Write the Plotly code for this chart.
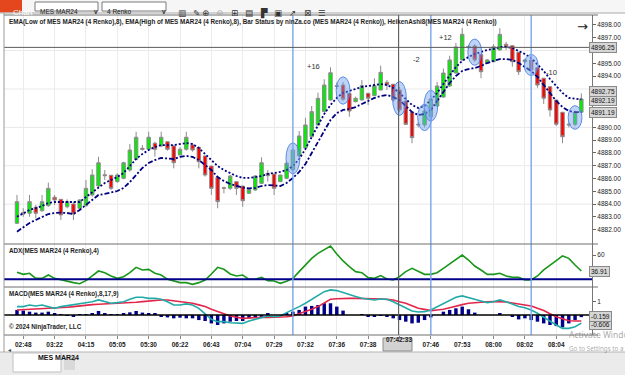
import plotly.graph_objects as go
from plotly.subplots import make_subplots

# ---------------- data ----------------
bars = list(range(91))
ha_open = [4882.51, 4883.34, 4883.29, 4883.76, 4883.49, 4883.88, 4884.54, 4884.38, 4883.80, 4884.02,
           4883.68, 4883.88, 4884.72, 4885.42, 4886.30, 4886.26, 4885.76, 4886.02, 4886.67, 4887.51,
           4888.37, 4888.29, 4888.76, 4888.55, 4888.88, 4888.55, 4887.84, 4888.29, 4888.63, 4888.45,
           4887.77, 4886.98, 4886.10, 4885.24, 4885.24, 4885.76, 4885.42, 4884.85, 4885.11, 4885.63,
           4886.41, 4886.36, 4885.76, 4886.02, 4886.67, 4887.77, 4888.39, 4889.27, 4890.19, 4891.23,
           4892.14, 4893.20, 4893.31, 4892.66, 4892.01, 4892.14, 4892.66, 4892.48, 4892.92, 4893.52,
           4893.37, 4892.92, 4892.06, 4891.18, 4890.25, 4890.19, 4890.81, 4891.67, 4892.37, 4893.23,
           4894.25, 4895.27, 4896.28, 4896.36, 4895.71, 4895.01, 4895.13, 4896.05, 4896.49, 4896.38,
           4895.87, 4895.13, 4895.27, 4894.66, 4893.84, 4893.18, 4892.14, 4891.18, 4890.25, 4890.24,
           4891.18]
ha_high = [4884.72, 4883.68, 4884.72, 4883.94, 4884.72, 4885.68, 4884.72, 4884.38, 4884.38, 4884.20,
           4884.38, 4885.89, 4886.73, 4887.71, 4886.67, 4886.28, 4886.41, 4887.32, 4888.70, 4889.66,
           4888.63, 4889.66, 4888.88, 4889.66, 4888.88, 4888.63, 4888.45, 4889.66, 4888.76, 4888.45,
           4887.77, 4886.98, 4886.10, 4885.37, 4886.28, 4885.76, 4885.42, 4885.24, 4886.28, 4887.66,
           4886.67, 4886.36, 4886.30, 4887.32, 4888.39, 4889.72, 4890.73, 4891.67, 4892.71, 4893.76,
           4894.70, 4893.50, 4893.55, 4892.66, 4892.40, 4893.70, 4892.70, 4893.84, 4894.82, 4893.70,
           4893.40, 4893.18, 4892.06, 4891.18, 4890.40, 4891.40, 4892.50, 4893.55, 4894.60, 4895.60,
           4896.60, 4897.75, 4896.45, 4896.50, 4895.71, 4895.35, 4896.50, 4897.75, 4896.67, 4896.38,
           4895.87, 4895.35, 4895.30, 4894.66, 4893.84, 4893.18, 4892.14, 4891.18, 4890.40, 4891.30,
           4892.66]
ha_low = [4882.45, 4883.02, 4883.02, 4882.90, 4883.41, 4883.80, 4883.94, 4882.77, 4883.68, 4882.77,
          4883.55, 4883.80, 4884.59, 4885.37, 4885.89, 4885.11, 4885.68, 4885.95, 4886.54, 4887.45,
          4888.18, 4888.18, 4887.71, 4888.45, 4888.18, 4886.80, 4887.84, 4888.18, 4888.10, 4886.80,
          4886.15, 4884.72, 4883.68, 4884.85, 4885.11, 4884.72, 4883.80, 4884.80, 4885.05, 4885.58,
          4885.76, 4884.72, 4885.74, 4885.95, 4886.62, 4887.70, 4888.35, 4889.20, 4890.15, 4891.20,
          4892.10, 4893.00, 4892.06, 4890.84, 4891.95, 4892.10, 4891.75, 4892.45, 4892.90, 4892.92,
          4892.01, 4891.18, 4890.20, 4888.76, 4890.00, 4890.00, 4890.75, 4891.60, 4892.30, 4893.20,
          4894.20, 4895.20, 4896.10, 4895.10, 4893.84, 4894.95, 4895.10, 4896.00, 4896.05, 4894.74,
          4894.09, 4895.05, 4894.30, 4893.10, 4891.83, 4890.84, 4890.10, 4888.76, 4890.00, 4890.10,
          4891.10]
ha_close = [4884.20, 4883.23, 4884.20, 4883.29, 4884.20, 4885.24, 4884.33, 4883.16, 4884.20, 4883.23,
            4884.33, 4885.24, 4886.28, 4887.24, 4886.23, 4885.24, 4886.28, 4887.24, 4888.23, 4889.23,
            4888.29, 4889.23, 4888.29, 4889.23, 4888.29, 4887.24, 4888.29, 4889.23, 4888.23, 4887.32,
            4886.28, 4885.24, 4884.20, 4885.28, 4886.20, 4885.24, 4884.27, 4885.16, 4886.20, 4887.24,
            4886.23, 4885.24, 4886.28, 4887.20, 4888.23, 4889.33, 4890.19, 4891.23, 4892.27, 4893.31,
            4894.27, 4893.25, 4892.20, 4891.28, 4892.27, 4893.26, 4892.27, 4893.26, 4894.30, 4893.31,
            4892.14, 4891.36, 4890.24, 4889.20, 4890.20, 4891.28, 4892.22, 4893.23, 4894.25, 4895.27,
            4896.28, 4897.27, 4896.32, 4895.27, 4894.35, 4895.27, 4896.30, 4897.27, 4896.30, 4895.13,
            4894.35, 4895.27, 4894.48, 4893.31, 4892.27, 4891.36, 4890.24, 4889.27, 4890.20, 4891.18,
            4892.22]
ema_high = [4883.02, 4883.31, 4883.55, 4883.70, 4883.86, 4884.09, 4884.17, 4884.17, 4884.17, 4884.13,
            4884.17, 4884.56, 4884.95, 4885.34, 4885.66, 4885.89, 4886.12, 4886.44, 4886.98, 4887.53,
            4887.92, 4888.23, 4888.47, 4888.62, 4888.62, 4888.62, 4888.70, 4888.78, 4888.70, 4888.39,
            4887.92, 4887.45, 4886.98, 4886.67, 4886.44, 4886.20, 4886.05, 4886.05, 4886.12, 4886.20,
            4886.36, 4886.44, 4886.52, 4886.67, 4886.98, 4887.53, 4888.31, 4889.25, 4890.19, 4891.05,
            4891.75, 4892.30, 4892.69, 4892.84, 4893.00, 4893.16, 4893.23, 4893.31, 4893.39, 4893.31,
            4893.08, 4892.69, 4892.22, 4891.75, 4891.52, 4891.67, 4892.14, 4892.69, 4893.39, 4894.09,
            4894.72, 4895.19, 4895.50, 4895.73, 4895.89, 4896.05, 4896.12, 4896.28, 4896.28, 4896.20,
            4895.97, 4895.73, 4895.42, 4894.95, 4894.41, 4893.78, 4893.23, 4892.69, 4892.30, 4892.22,
            4892.19]
ema_low = [4881.85, 4882.22, 4882.53, 4882.77, 4883.00, 4883.23, 4883.31, 4883.34, 4883.31, 4883.23,
           4883.55, 4883.94, 4884.33, 4884.72, 4884.80, 4884.91, 4885.03, 4885.27, 4885.73, 4886.28,
           4886.83, 4887.22, 4887.45, 4887.61, 4887.57, 4887.53, 4887.69, 4887.77, 4887.69, 4887.45,
           4887.06, 4886.67, 4886.12, 4885.81, 4885.58, 4885.42, 4885.30, 4885.23, 4885.27, 4885.42,
           4885.50, 4885.46, 4885.42, 4885.66, 4886.05, 4886.52, 4887.14, 4888.00, 4888.86, 4889.80,
           4890.58, 4891.12, 4891.36, 4891.44, 4891.59, 4891.83, 4892.06, 4892.30, 4892.45, 4892.53,
           4892.37, 4892.14, 4891.67, 4891.20, 4890.97, 4891.05, 4891.36, 4892.06, 4892.77, 4893.47,
           4894.02, 4894.41, 4894.56, 4894.64, 4894.80, 4895.03, 4895.19, 4895.34, 4895.34, 4895.27,
           4895.03, 4894.72, 4894.41, 4893.94, 4893.31, 4892.69, 4892.06, 4891.59, 4891.28, 4891.20,
           4891.19]
adx = [35.0, 32.1, 33.6, 26.3, 26.3, 31.1, 26.3, 23.9, 21.5, 20.1,
       18.6, 23.0, 29.7, 36.9, 34.5, 29.7, 26.3, 28.7, 34.5, 42.2,
       38.4, 39.3, 33.6, 31.1, 24.9, 23.0, 20.1, 20.1, 17.7, 20.1,
       23.9, 32.6, 42.2, 39.3, 32.6, 29.7, 31.1, 24.9, 24.9, 27.8,
       23.0, 22.5, 19.1, 22.0, 26.3, 36.0, 45.6, 55.2, 62.4, 68.2,
       73.0, 61.5, 51.4, 43.2, 36.0, 34.5, 27.3, 26.3, 30.2, 25.4,
       23.9, 28.7, 36.0, 40.8, 36.0, 32.1, 32.1, 34.5, 40.8, 47.0,
       53.7, 60.0, 52.8, 44.1, 38.4, 32.1, 32.1, 33.6, 29.7, 27.8,
       27.8, 23.9, 23.9, 29.7, 38.4, 45.6, 51.8, 58.6, 55.2, 45.6,
       36.91]
macd = [0.63, 0.63, 0.75, 0.68, 0.75, 0.63, 0.50, 0.63, 0.70, 0.80,
        0.83, 0.93, 1.00, 1.13, 1.00, 0.88, 0.93, 1.00, 1.18, 1.33,
        1.33, 1.25, 1.25, 1.18, 1.00, 0.75, 0.75, 0.83, 0.75, 0.50,
        0.08, -0.33, -0.50, -0.50, -0.58, -0.58, -0.63, -0.45, -0.33, -0.18,
        -0.08, -0.13, -0.08, 0.18, 0.38, 0.63, 0.88, 1.18, 1.50, 1.75,
        1.88, 1.83, 1.68, 1.50, 1.38, 1.25, 1.18, 1.13, 1.20, 1.18,
        1.00, 0.75, 0.50, 0.30, 0.23, 0.25, 0.38, 0.63, 0.88, 1.13,
        1.33, 1.43, 1.33, 1.18, 1.05, 0.93, 1.00, 1.13, 1.00, 0.80,
        0.63, 0.55, 0.38, 0.13, -0.18, -0.50, -0.75, -1.00, -1.00, -0.88,
        -0.606]
macd_avg = [0.38, 0.40, 0.43, 0.45, 0.48, 0.50, 0.53, 0.55, 0.58, 0.63,
            0.69, 0.75, 0.78, 0.81, 0.83, 0.85, 0.86, 0.88, 0.92, 0.96,
            1.00, 1.06, 1.12, 1.13, 1.13, 1.07, 1.00, 0.94, 0.88, 0.76,
            0.63, 0.44, 0.25, 0.08, -0.08, -0.17, -0.25, -0.22, -0.18, -0.18,
            -0.18, -0.18, -0.18, -0.13, -0.08, 0.08, 0.25, 0.44, 0.63, 0.92,
            1.18, 1.22, 1.25, 1.25, 1.25, 1.25, 1.24, 1.23, 1.20, 1.17,
            1.13, 1.00, 0.88, 0.70, 0.50, 0.42, 0.33, 0.38, 0.43, 0.55,
            0.68, 0.78, 0.88, 0.93, 0.98, 0.99, 1.00, 0.99, 0.98, 0.90,
            0.83, 0.76, 0.68, 0.50, 0.33, 0.10, -0.13, -0.28, -0.43, -0.45,
            -0.447]
macd_diff = [0.38, 0.33, 0.25, 0.18, 0.18, 0.25, 0.08, 0.02, -0.02, -0.13,
             0.02, 0.05, 0.13, 0.30, 0.13, 0.02, 0.02, 0.13, 0.20, 0.30,
             0.18, 0.13, 0.08, -0.08, -0.18, -0.25, -0.20, -0.25, -0.25, -0.38,
             -0.45, -0.63, -0.75, -0.63, -0.50, -0.45, -0.45, -0.25, -0.18, -0.08,
             0.08, 0.00, 0.00, 0.13, 0.25, 0.38, 0.63, 0.68, 0.75, 0.88,
             0.88, 0.63, 0.33, 0.00, 0.00, 0.02, -0.08, -0.08, -0.03, -0.13,
             -0.25, -0.38, -0.50, -0.63, -0.58, -0.38, -0.18, 0.00, 0.25, 0.38,
             0.50, 0.63, 0.43, 0.18, 0.00, 0.00, 0.00, 0.13, 0.00, -0.13,
             -0.33, -0.25, -0.38, -0.50, -0.63, -0.75, -0.83, -0.93, -0.63, -0.38,
             -0.159]
tick_idx = [1, 6, 11, 16, 21, 26, 31, 36, 41, 46, 51, 56, 61, 66, 71, 76, 81, 86]
tick_labels = ["02:48", "03:22", "04:15", "05:05", "05:30", "06:22", "06:43", "07:04", "07:29",
               "07:32", "07:36", "07:38", "", "07:46", "07:53", "08:00", "08:02", "08:04"]
price_ticks = [4882, 4883, 4884, 4885, 4886, 4887, 4888, 4889, 4890, 4891, 4892, 4893, 4894,
               4895, 4896, 4897, 4898]
price_hidden = [4891, 4892, 4893, 4896]   # labels covered by the value boxes
price_grid = [4884, 4887, 4890, 4893, 4896]
status_bars = [44, 52, 61, 65, 66, 73, 82, 89]
signal_bars = [44, 66, 82]
brick_text = ["+16", "-2", "+12", "-10"]
brick_bar = [47.3, 63.7, 68.3, 85.3]
brick_price = [4894.72, 4895.27, 4897.0, 4894.25]
crosshair_bar = 60.85
crosshair_price = 4896.25
crosshair_time = "07:42:33"
last_price = 4892.75
adx_threshold = 25

# ---------------- figure ----------------
FONT = "Liberation Sans"
W, H = 625, 375
L, R, T, B = 4, 592, 15, 335


def px(x):
    return (x - L) / (R - L)


def py(y):
    return (B - y) / (B - T)


fig = make_subplots(rows=3, cols=1, shared_xaxes=True, vertical_spacing=0,
                    row_heights=[229, 43, 48])

fig.add_trace(go.Candlestick(
    x=bars, open=ha_open, high=ha_high, low=ha_low, close=ha_close,
    increasing=dict(fillcolor="#00ee00", line=dict(color="#8c8c8c", width=1)),
    decreasing=dict(fillcolor="#ff0000", line=dict(color="#8c8c8c", width=1)),
    whiskerwidth=0, hoverinfo="skip", showlegend=False), row=1, col=1)
fig.add_trace(go.Scatter(x=bars, y=ema_high, mode="lines",
                         line=dict(color="#000080", width=1.8, dash="2px,2px"),
                         hoverinfo="skip", showlegend=False), row=1, col=1)
fig.add_trace(go.Scatter(x=bars, y=ema_low, mode="lines",
                         line=dict(color="#000080", width=1.8, dash="5px,2px,2px,2px"),
                         hoverinfo="skip", showlegend=False), row=1, col=1)

fig.add_trace(go.Scatter(x=bars, y=adx, mode="lines", line=dict(color="#1a961a", width=1.6),
                         hoverinfo="skip", showlegend=False), row=2, col=1)

fig.add_trace(go.Bar(x=bars, y=macd_diff, width=0.55, marker=dict(color="#00008b", line=dict(width=0)),
                     hoverinfo="skip", showlegend=False), row=3, col=1)
fig.add_trace(go.Scatter(x=bars, y=macd_avg, mode="lines", line=dict(color="#e3264a", width=1.6),
                         hoverinfo="skip", showlegend=False), row=3, col=1)
fig.add_trace(go.Scatter(x=bars, y=macd, mode="lines", line=dict(color="#22aaa8", width=1.6),
                         hoverinfo="skip", showlegend=False), row=3, col=1)

xr = [-2.07, 91.7]
axis_font = dict(family=FONT, size=6.5, color="#222")
for r in (1, 2, 3):
    fig.update_xaxes(range=xr, tickvals=tick_idx, showgrid=True, gridcolor="#ececec",
                     gridwidth=1, zeroline=False, showline=False, rangeslider_visible=False,
                     row=r, col=1)
fig.update_xaxes(showticklabels=False, ticks="", row=1, col=1)
fig.update_xaxes(showticklabels=False, ticks="", row=2, col=1)
fig.update_xaxes(ticktext=tick_labels, ticks="outside", ticklen=3, tickcolor="#888",
                 tickfont=dict(family=FONT, size=6.5, color="#222", weight="bold"),
                 row=3, col=1)

price_ticktext = ["" if v in price_hidden else f"{v:.2f}" for v in price_ticks]
fig.update_yaxes(side="right", range=[4880.89, 4898.78], tickvals=price_ticks,
                 ticktext=price_ticktext, ticks="outside", ticklen=3, tickcolor="#666",
                 tickfont=axis_font, showgrid=False, zeroline=False,
                 showline=True, linecolor="#777", row=1, col=1)
fig.update_yaxes(side="right", range=[13.8, 75.9], tickvals=[60], ticks="outside", ticklen=3,
                 tickcolor="#666", tickfont=axis_font, showgrid=False, zeroline=False,
                 showline=True, linecolor="#777", row=2, col=1)
fig.update_yaxes(side="right", range=[-1.5, 2.1], tickvals=[1], ticks="outside", ticklen=3,
                 tickcolor="#666", tickfont=axis_font, showgrid=False, zeroline=False,
                 showline=True, linecolor="#777", row=3, col=1)

shapes = []
# ---- window chrome ----
shapes.append(dict(type="rect", xref="paper", yref="paper", x0=px(0), x1=px(625),
                   y0=py(0), y1=py(13), fillcolor="#f6f6f6", line=dict(width=0), layer="below"))
shapes.append(dict(type="rect", xref="paper", yref="paper", x0=px(0), x1=px(22),
                   y0=py(0), y1=py(12.5), fillcolor="#e4471d", line=dict(width=0)))
for x0, x1 in ((35, 98), (102, 166)):
    shapes.append(dict(type="rect", xref="paper", yref="paper", x0=px(x0), x1=px(x1),
                       y0=py(2), y1=py(11), fillcolor="#ffffff",
                       line=dict(color="#7a7a7a", width=1)))
shapes.append(dict(type="line", xref="paper", yref="paper", x0=px(0), x1=px(625),
                   y0=py(13), y1=py(13), line=dict(color="#a8a8a8", width=1)))
shapes.append(dict(type="rect", xref="paper", yref="paper", x0=px(0), x1=px(625),
                   y0=py(352), y1=py(375), fillcolor="#ebebeb", line=dict(width=0)))
shapes.append(dict(type="line", xref="paper", yref="paper", x0=px(0), x1=px(625),
                   y0=py(352), y1=py(352), line=dict(color="#b5b5b5", width=1)))
shapes.append(dict(type="rect", xref="paper", yref="paper", x0=px(13), x1=px(61),
                   y0=py(353), y1=py(372), fillcolor="#ffffff",
                   line=dict(color="#c0c0c0", width=1)))
shapes.append(dict(type="rect", xref="paper", yref="paper", x0=px(64), x1=px(75),
                   y0=py(357), y1=py(370), fillcolor="#d9d9d9", line=dict(width=0)))
shapes.append(dict(type="rect", xref="paper", yref="paper", x0=px(383), x1=px(412),
                   y0=py(338), y1=py(351), fillcolor="#d2d2d2",
                   line=dict(color="#8a8a8a", width=1)))
# horizontal price grid
for g in price_grid:
    shapes.append(dict(type="line", xref="paper", yref="y", x0=0, x1=1, y0=g, y1=g,
                       line=dict(color="#e8e8e8", width=1), layer="below"))
# threshold & zero lines
shapes.append(dict(type="line", xref="paper", yref="y2", x0=0, x1=1, y0=adx_threshold,
                   y1=adx_threshold, line=dict(color="#00008b", width=2)))
shapes.append(dict(type="line", xref="paper", yref="y3", x0=0, x1=1, y0=0, y1=0,
                   line=dict(color="#000000", width=1.6)))
# bar status ellipses
for b in status_bars:
    shapes.append(dict(type="circle", xref="x", yref="y", x0=b - 1.1, x1=b + 1.1,
                       y0=ha_low[b] - 0.25, y1=ha_high[b] + 0.4,
                       fillcolor="rgba(110,160,235,0.45)",
                       line=dict(color="rgba(80,130,225,0.9)", width=1), layer="above"))
# signal vertical lines
for b in signal_bars:
    shapes.append(dict(type="line", xref="x", yref="paper", x0=b, x1=b, y0=0, y1=1,
                       line=dict(color="#78a6ec", width=1.4), layer="above"))
# crosshair
shapes.append(dict(type="line", xref="x", yref="paper", x0=crosshair_bar, x1=crosshair_bar,
                   y0=0, y1=1, line=dict(color="#5a5a5a", width=1)))
shapes.append(dict(type="line", xref="paper", yref="y", x0=0, x1=1, y0=crosshair_price,
                   y1=crosshair_price, line=dict(color="#5a5a5a", width=1)))
# panel separators / frame
for yy in (244, 287, 335, 15):
    shapes.append(dict(type="line", xref="paper", yref="paper", x0=px(4), x1=px(598),
                       y0=py(yy), y1=py(yy), line=dict(color="#6e6e6e", width=1)))
shapes.append(dict(type="line", xref="paper", yref="paper", x0=px(4), x1=px(4),
                   y0=py(13), y1=py(352), line=dict(color="#9a9a9a", width=1)))
fig.update_layout(shapes=shapes)

ann = []
tf = dict(family=FONT, size=6.3, color="#1e1e1e", weight="bold")
ann.append(dict(xref="paper", yref="paper", x=px(7), y=py(22), xanchor="left", yanchor="middle",
                text="EMA(Low of MES MAR24 (4 Renko),8), EMA(High of MES MAR24 (4 Renko),8), "
                     "Bar Status by ninZa.co (MES MAR24 (4 Renko)), HeikenAshi8(MES MAR24 (4 Renko))",
                showarrow=False, font=tf))
ann.append(dict(xref="paper", yref="paper", x=px(7), y=py(251), xanchor="left", yanchor="middle",
                text="ADX(MES MAR24 (4 Renko),4)", showarrow=False, font=tf))
ann.append(dict(xref="paper", yref="paper", x=px(7), y=py(294), xanchor="left", yanchor="middle",
                text="MACD(MES MAR24 (4 Renko),8,17,9)", showarrow=False, font=tf))
ann.append(dict(xref="paper", yref="paper", x=px(7), y=py(327), xanchor="left", yanchor="middle",
                text="© 2024 NinjaTrader, LLC", showarrow=False, font=tf))
ann.append(dict(xref="paper", yref="paper", x=px(582), y=py(27), xanchor="center",
                yanchor="middle", text="→", showarrow=False,
                font=dict(family="DejaVu Sans", size=13, color="#222")))
for t, bx, bp in zip(brick_text, brick_bar, brick_price):
    ann.append(dict(xref="x", yref="y", x=bx, y=bp, text=t, showarrow=False,
                    font=dict(family=FONT, size=7.5, color="#333")))
ann.append(dict(xref="x", yref="paper", x=crosshair_bar, y=py(344.5), text=crosshair_time,
                showarrow=False, font=dict(family=FONT, size=6.5, color="#222", weight="bold")))


def axis_box(yref, yval, label, shift=0):
    return dict(xref="paper", yref=yref, x=px(589), y=yval, xanchor="left", yanchor="middle",
                text=label, showarrow=False, bgcolor="#d6d6d6", bordercolor="#8a8a8a",
                borderwidth=1, borderpad=1, yshift=shift,
                font=dict(family=FONT, size=6.5, color="#111"))


ann.append(axis_box("y", crosshair_price, f"{crosshair_price:.2f}"))
ann.append(axis_box("y", ema_low[-1], f"{ema_low[-1]:.2f}"))
ann.append(axis_box("y", ema_high[-1], f"{ema_high[-1]:.2f}", -1))
ann.append(axis_box("y", last_price, f"{last_price:.2f}", 1))
ann.append(axis_box("y2", adx[-1], f"{adx[-1]:.2f}"))
ann.append(axis_box("y3", macd[-1], f"{macd[-1]:.3f}", -1))
ann.append(axis_box("y3", macd_diff[-1], f"{macd_diff[-1]:.3f}", 1))

# toolbar text
ann.append(dict(xref="paper", yref="paper", x=px(11), y=py(6.5), text="Chart", showarrow=False,
                font=dict(family=FONT, size=8, color="#ffffff")))
ann.append(dict(xref="paper", yref="paper", x=px(38), y=py(6.5), xanchor="left", text="MES MAR24",
                showarrow=False, font=dict(family=FONT, size=6.5, color="#222")))
ann.append(dict(xref="paper", yref="paper", x=px(105), y=py(6.5), xanchor="left", text="4 Renko",
                showarrow=False, font=dict(family=FONT, size=6.5, color="#222")))
for xx in (92, 160):
    ann.append(dict(xref="paper", yref="paper", x=px(xx), y=py(6.5), text="v", showarrow=False,
                    font=dict(family=FONT, size=6.5, color="#333", weight="bold")))
icons = ["▥", "✎", "⊕", "⊖", "⊞", "▤", "▛", "▣", "↗", "⊠", "☰"]
for k, ic in enumerate(icons):
    ann.append(dict(xref="paper", yref="paper", x=px(176 + 14.6 * k), y=py(6.5), text=ic,
                    showarrow=False, font=dict(family="DejaVu Sans", size=8.5,
                                               color="#aaaaaa" if k == 3 else "#333333")))
# bottom tab
ann.append(dict(xref="paper", yref="paper", x=px(36), y=py(362.5), text="MES MAR24",
                showarrow=False, font=dict(family=FONT, size=7, color="#111", weight="bold")))
ann.append(dict(xref="paper", yref="paper", x=px(69.5), y=py(364.5), text="+", showarrow=False,
                font=dict(family=FONT, size=7, color="#333")))
ann.append(dict(xref="paper", yref="paper", x=px(6), y=py(355), text="◂", showarrow=False,
                font=dict(family="DejaVu Sans", size=6, color="#444")))
# OS watermark (visible part only)
ann.append(dict(xref="paper", yref="paper", x=px(567), y=py(342), xanchor="left",
                text="Activate Windo", showarrow=False,
                font=dict(family="Noto Sans", size=8.5, color="rgba(140,140,140,0.75)")))
ann.append(dict(xref="paper", yref="paper", x=px(567), y=py(355), xanchor="left",
                text="Go to Settings to a", showarrow=False,
                font=dict(family="Noto Sans", size=6.3, color="rgba(140,140,140,0.75)")))

fig.update_layout(
    annotations=ann,
    width=W, height=H,
    margin=dict(l=L, r=W - R, t=T, b=H - B),
    paper_bgcolor="#ffffff", plot_bgcolor="#ffffff",
    boxgap=0.22, bargap=0.45,
    showlegend=False, hovermode=False,
    font=dict(family=FONT),
)

fig.write_html("out.html", config={"displayModeBar": False})
